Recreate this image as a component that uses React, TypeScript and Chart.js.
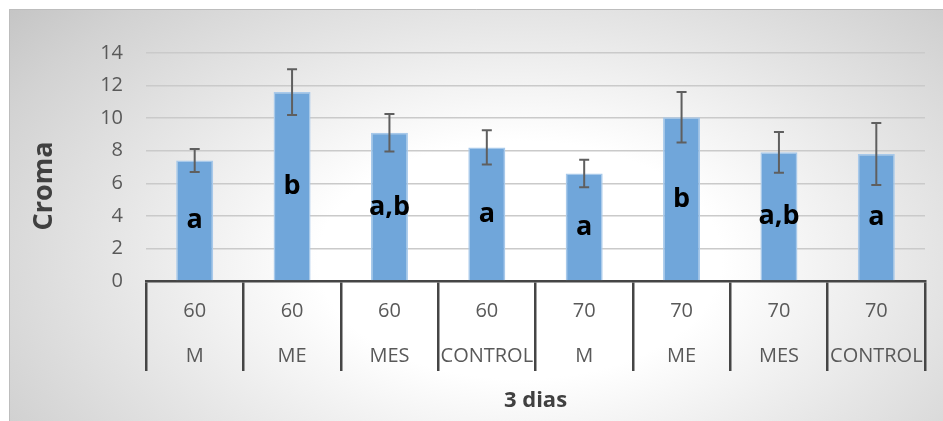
import React, { useEffect, useRef } from "react";
import { Chart, registerables } from "chart.js";

Chart.register(...registerables);

// Drying temperature (°C) and treatment for each bar
const temperatures = ["60", "60", "60", "60", "70", "70", "70", "70"];
const treatments = ["M", "ME", "MES", "CONTROL", "M", "ME", "MES", "CONTROL"];
// Mean chroma and its standard deviation
const cromaMean = [7.4, 11.6, 9.1, 8.2, 6.6, 10.05, 7.9, 7.8];
const cromaSd = [0.7, 1.4, 1.15, 1.05, 0.85, 1.55, 1.25, 1.9];
// Significance groups
const groupLetters = ["a", "b", "a,b", "a", "a", "b", "a,b", "a"];
// Value axis range
const yMin = 0;
const yMax = 14;
const yStep = 2;

const FONT = "'Open Sans', 'Noto Sans', sans-serif";
const W = 943;
const H = 421;

const panelBackground = {
  id: "panelBackground",
  beforeDraw(chart: any) {
    const { ctx, width, height } = chart;
    ctx.save();
    ctx.fillStyle = "#ffffff";
    ctx.fillRect(0, 0, width, height);
    ctx.beginPath();
    ctx.rect(9, 9, width - 9, height - 9);
    ctx.clip();
    ctx.translate(520, 260);
    ctx.scale(560, 330);
    const g = ctx.createRadialGradient(0, 0, 0, 0, 0, 1.2);
    g.addColorStop(0, "#ffffff");
    g.addColorStop(0.3, "#ffffff");
    g.addColorStop(0.6, "#e6e6e6");
    g.addColorStop(0.85, "#d2d2d2");
    g.addColorStop(1, "#c4c4c4");
    ctx.fillStyle = g;
    ctx.fillRect(-2, -2, 4, 4);
    ctx.restore();
    ctx.save();
    ctx.strokeStyle = "#bdbdbd";
    ctx.lineWidth = 1;
    ctx.beginPath();
    ctx.moveTo(9.5, height);
    ctx.lineTo(9.5, 9.5);
    ctx.lineTo(width, 9.5);
    ctx.stroke();
    ctx.restore();
  },
};

const errorBarsAndLetters = {
  id: "errorBarsAndLetters",
  afterDatasetsDraw(chart: any) {
    const { ctx } = chart;
    const yScale = chart.scales.y;
    const meta = chart.getDatasetMeta(0);
    ctx.save();
    meta.data.forEach((bar: any, i: number) => {
      const x = bar.x;
      const top = yScale.getPixelForValue(cromaMean[i] + cromaSd[i]);
      const bottom = yScale.getPixelForValue(cromaMean[i] - cromaSd[i]);
      ctx.strokeStyle = "#5f5f5f";
      ctx.lineWidth = 2;
      ctx.beginPath();
      ctx.moveTo(x, top);
      ctx.lineTo(x, bottom);
      ctx.moveTo(x - 5, top);
      ctx.lineTo(x + 5, top);
      ctx.moveTo(x - 5, bottom);
      ctx.lineTo(x + 5, bottom);
      ctx.stroke();

      ctx.fillStyle = "#000000";
      ctx.font = `bold 27px ${FONT}`;
      ctx.textAlign = "center";
      ctx.textBaseline = "middle";
      ctx.fillText(groupLetters[i], x, yScale.getPixelForValue(cromaMean[i] / 2));
    });
    ctx.restore();
  },
  afterDraw(chart: any) {
    const { ctx } = chart;
    ctx.save();
    ctx.translate(44, 186);
    ctx.rotate(-Math.PI / 2);
    ctx.fillStyle = "#404040";
    ctx.font = `bold 27px ${FONT}`;
    ctx.textAlign = "center";
    ctx.textBaseline = "middle";
    ctx.fillText("Croma", 0, 0);
    ctx.restore();
  },
};

export default function App() {
  const canvasRef = useRef<HTMLCanvasElement | null>(null);

  useEffect(() => {
    if (!canvasRef.current) return;
    const labels = temperatures.map((t, i) => [t, treatments[i]]);
    const chart = new Chart(canvasRef.current, {
      type: "bar",
      data: {
        labels,
        datasets: [
          {
            label: "Croma",
            data: cromaMean,
            backgroundColor: "#70a6da",
            borderColor: "#a8c9ea",
            borderWidth: 1.5,
            categoryPercentage: 1,
            barPercentage: 0.38,
          },
        ],
      },
      options: {
        responsive: false,
        animation: false,
        layout: { padding: { left: 0, top: 53, right: 18, bottom: 6.6 } },
        plugins: {
          legend: { display: false },
          tooltip: { enabled: false },
        },
        scales: {
          x: {
            afterFit(scale: any) {
              scale.height = 133.4;
            },
            grid: {
              offset: true,
              drawOnChartArea: false,
              drawTicks: true,
              tickLength: 90,
              color: "#454545",
              lineWidth: 2.5,
            },
            border: { display: true, color: "#454545", width: 2.5 },
            ticks: {
              autoSkip: false,
              maxRotation: 0,
              minRotation: 0,
              padding: -82,
              color: "#595959",
              font: { family: FONT, size: 20, lineHeight: 2.25 },
            },
            title: {
              display: true,
              text: "3 dias",
              color: "#404040",
              font: { family: FONT, size: 22, weight: "bold", lineHeight: 1.2 },
              padding: { top: 9, bottom: 0 },
            },
          },
          y: {
            min: yMin,
            max: yMax,
            afterFit(scale: any) {
              scale.width = 146;
            },
            grid: {
              drawTicks: false,
              lineWidth: 1.5,
              color: (c: any) => (c.tick && c.tick.value === 0 ? "rgba(0,0,0,0)" : "#cacaca"),
            },
            border: { display: false },
            ticks: {
              stepSize: yStep,
              padding: 23,
              color: "#595959",
              font: { family: FONT, size: 20 },
            },
          },
        },
      },
      plugins: [panelBackground, errorBarsAndLetters],
    });
    return () => chart.destroy();
  }, []);

  return (
    <div style={{ position: "fixed", left: 0, top: 0, width: W, height: H }}>
      <canvas ref={canvasRef} width={W} height={H} style={{ display: "block" }} />
    </div>
  );
}
